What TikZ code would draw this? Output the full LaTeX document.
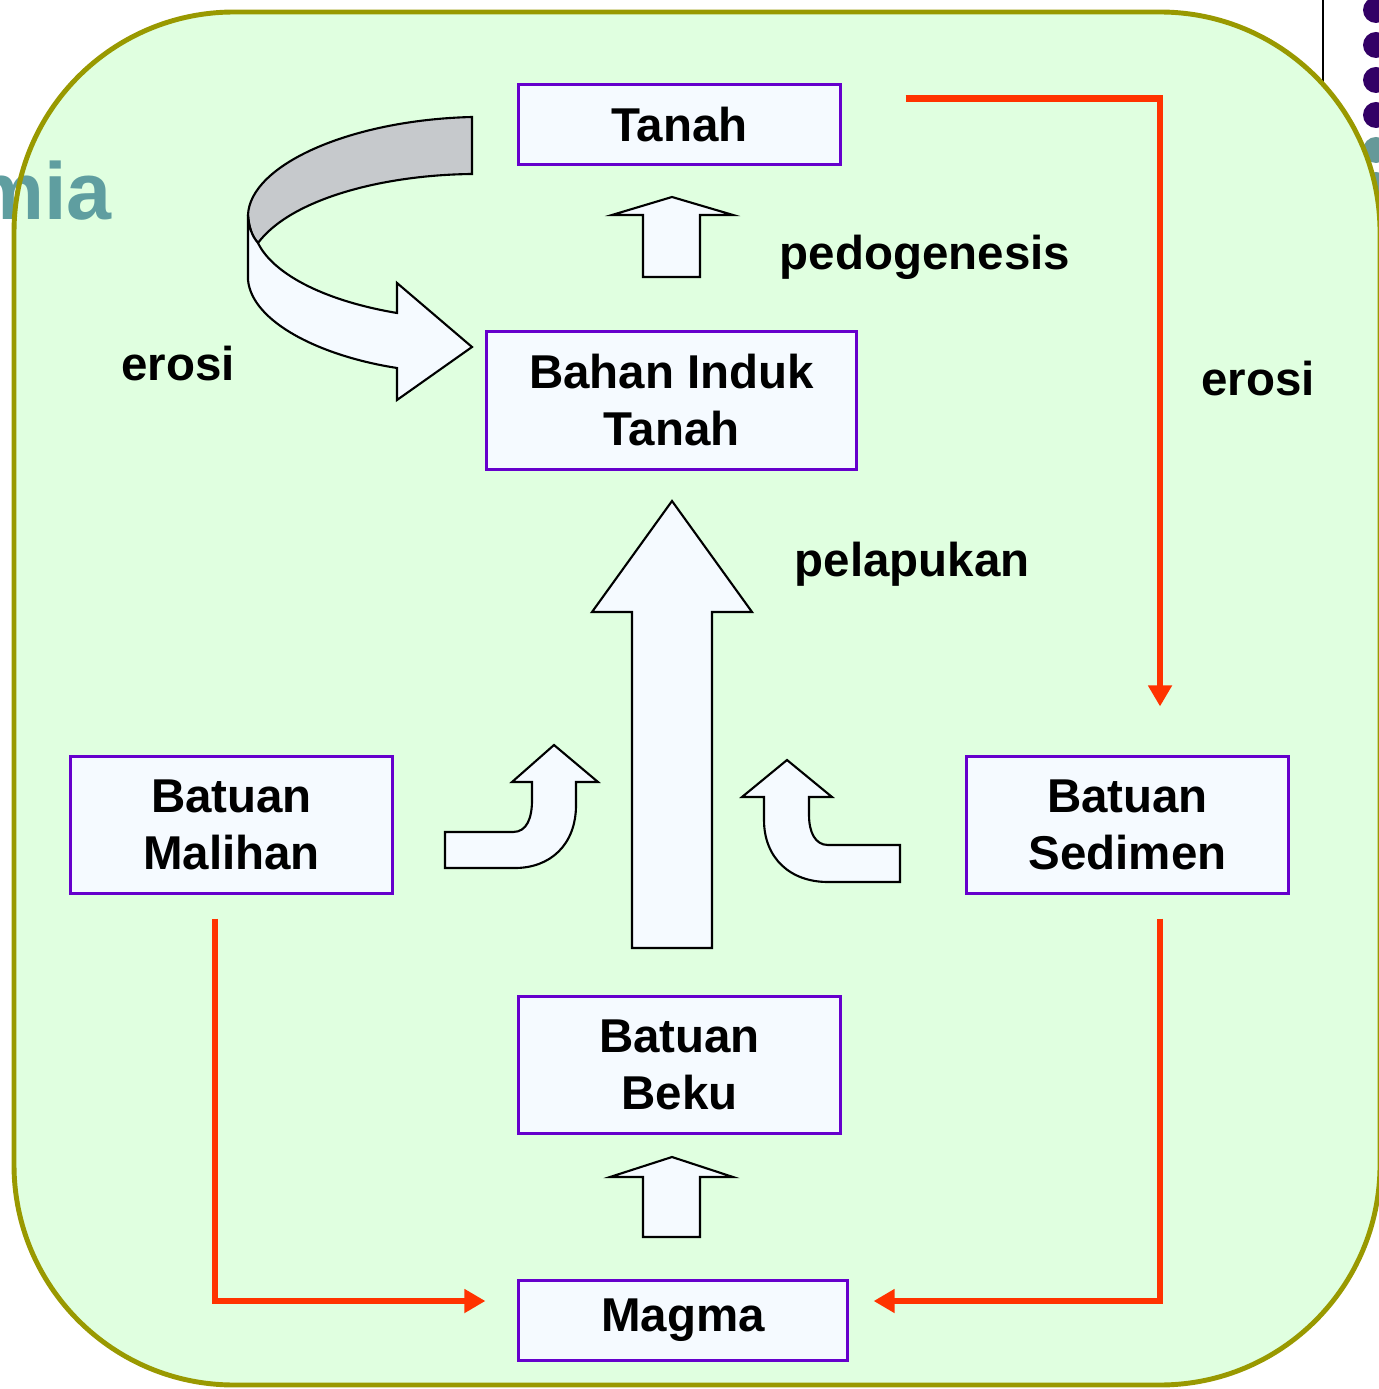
\documentclass[tikz,border=0pt]{standalone}
\usepackage{fontspec}
\setmainfont{Liberation Sans}
\usepackage{xcolor}
\usetikzlibrary{arrows.meta,calc}
\definecolor{hijauLatar}{HTML}{E0FFE0}
\definecolor{zaitun}{HTML}{999900}
\definecolor{ungu}{HTML}{6600CC}
\definecolor{putihBiru}{HTML}{F5FAFF}
\definecolor{merah}{HTML}{FF3300}
\definecolor{abuPita}{HTML}{C6C9CC}
\definecolor{toska}{HTML}{5F9EA0}
\definecolor{unguTua}{HTML}{330066}
\definecolor{toskaTitik}{HTML}{669999}
\tikzset{
    kotak/.style={
        rectangle,
        draw=ungu,
        line width=0.85pt,
        fill=putihBiru,
        align=center,
        inner sep=0pt,
        font=\fontsize{13.5}{16.2}\selectfont\bfseries
    },
    kotakPendek/.style={kotak, minimum width=3.21cm, minimum height=0.79cm},
    kotakTinggi/.style={kotak, minimum width=3.21cm, minimum height=1.36cm},
    keterangan/.style={inner sep=0pt, anchor=base, font=\fontsize{13.5}{16.2}\selectfont\bfseries},
    alur/.style={draw=merah, line width=1.9pt, -{Triangle[length=6pt,width=6.5pt]}},
    panahBlok/.style={draw=black, line width=0.6pt, fill=putihBiru},
    titik/.style={circle, fill=unguTua, inner sep=0pt, minimum size=0.26cm}
}

\begin{document}
\begin{tikzpicture}[x=0.01cm, y=-0.01cm]
    \useasboundingbox (0,0) rectangle (1378,1389);
    % sisa slide di latar
    \foreach \yy in {10,45,80,115}
        \node[titik] (t\yy) at (1376,\yy) {};
    \foreach \yy in {150,185}
        \node[titik, fill=toskaTitik] (t\yy) at (1376,\yy) {};
    \draw[line width=0.8pt] (1323,0) -- (1323,90);
    \fill[hijauLatar, rounded corners=2.2cm] (14,12) rectangle (1380,1385);
    \node[inner sep=0pt, anchor=base, text=toska, font=\fontsize{23}{23}\selectfont\bfseries] (judul) at (42,220) {mia};
    \draw[zaitun, line width=1.4pt, rounded corners=2.2cm] (14,12) rectangle (1380,1385);

    % kotak
    \node[kotakPendek] (tanah) at (679.5,124.5) {Tanah};
    \node[kotak, minimum width=3.69cm, minimum height=1.37cm] (bahan) at (671.5,400.5) {Bahan Induk\\Tanah};
    \node[kotakTinggi] (malihan) at (231.5,825) {Batuan\\Malihan};
    \node[kotakTinggi] (sedimen) at (1127.5,825) {Batuan\\Sedimen};
    \node[kotakTinggi] (beku) at (679.5,1065) {Batuan\\Beku};
    \node[kotakPendek, minimum width=3.28cm] (magma) at (683,1320.5) {Magma};

    % keterangan
    \node[keterangan] (lblPedo) at (925,270) {pedogenesis};
    \node[keterangan] (lblErosiKiri) at (178,381) {erosi};
    \node[keterangan] (lblErosiKanan) at (1258,396) {erosi};
    \node[keterangan] (lblLapuk) at (912,577) {pelapukan};

    % panah merah
    \draw[alur] ($(tanah.north east)+(64,15)$) -| ($(sedimen.north)+(32.5,-49)$);
    \draw[alur] ($(sedimen.south)+(32.5,24)$) |- ($(magma.east)+(25,-19.5)$);
    \draw[alur] ($(malihan.south)+(-16.5,24)$) |- ($(magma.west)+(-32,-19.5)$);

    % panah blok
    \draw[panahBlok] (643,277) -- (643,215) -- (612,215) -- (672,197) -- (733,215) -- (700,215) -- (700,277) -- cycle;
    \draw[panahBlok] (632,948) -- (632,612) -- (592,612) -- (672,501) -- (752,612) -- (712,612) -- (712,948) -- cycle;
    \draw[panahBlok] (643,1237) -- (643,1177) -- (610,1177) -- (672,1157) -- (733,1177) -- (700,1177) -- (700,1237) -- cycle;
    \draw[panahBlok] (445,832) -- (513,832) .. controls (527,832) and (532,818) .. (532,800) -- (532,782) -- (512,782) -- (554,745) -- (598,782) -- (576,782) -- (576,805) .. controls (576,845) and (550,868) .. (515,868) -- (445,868) -- cycle;
    \draw[panahBlok] (900,845) -- (828,845) .. controls (815,845) and (809,832) .. (809,815) -- (809,797) -- (832,797) -- (787,760) -- (742,797) -- (764,797) -- (764,820) .. controls (764,858) and (790,882) .. (828,882) -- (900,882) -- cycle;

    % panah lengkung erosi
    \draw[panahBlok, fill=abuPita] (472,117) .. controls (350,120) and (250,165) .. (248,215) .. controls (249,228) and (252,236) .. (258,243) .. controls (290,200) and (380,175) .. (472,174) -- cycle;
    \draw[panahBlok] (248,215) -- (248,280) .. controls (252,322) and (320,356) .. (397,368) -- (397,400) -- (472,347) -- (397,283) -- (397,313) .. controls (320,300) and (272,272) .. (258,243) .. controls (252,236) and (249,228) .. (248,215) -- cycle;
\end{tikzpicture}
\end{document}
